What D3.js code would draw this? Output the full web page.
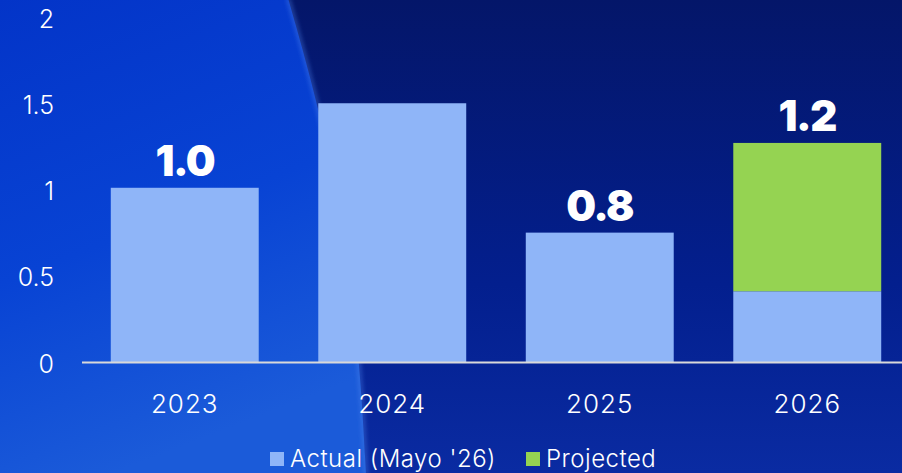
<!DOCTYPE html>
<html>
<head>
<meta charset="utf-8">
<script src="https://cdn.jsdelivr.net/npm/d3@7"></script>
<style>
  html, body { margin: 0; padding: 0; background: #041c86; }
  svg { display: block; }
  text { font-family: Inter, "Open Sans", sans-serif; fill: #ffffff; }
</style>
</head>
<body>
<div id="chart"></div>
<script>
// data
var years = ["2023", "2024", "2025", "2026"];
var actual = [1.01, 1.5, 0.75, 0.41];
var projected = [0, 0, 0, 0.86];
var topLabels = ["1.0", "", "0.8", "1.2"];
var yTicks = [0, 0.5, 1, 1.5, 2];
var seriesNames = ["Actual (Mayo '26)", "Projected"];
var seriesColors = ["#8fb5f8", "#95d352"];

var width = 902, height = 473;

var svg = d3.select('#chart')
    .append('svg')
    .attr('width', width)
    .attr('height', height);

// background
var defs = svg.append('defs');
var gRight = defs.append('linearGradient').attr('id', 'bgRight')
    .attr('x1', 0).attr('y1', 0).attr('x2', 0).attr('y2', 1);
gRight.append('stop').attr('offset', '0%').attr('stop-color', '#041669');
gRight.append('stop').attr('offset', '60%').attr('stop-color', '#031f8e');
gRight.append('stop').attr('offset', '100%').attr('stop-color', '#0a2ba2');

var gLeft = defs.append('linearGradient').attr('id', 'bgLeft')
    .attr('x1', 0).attr('y1', 0).attr('x2', 0.3).attr('y2', 1);
gLeft.append('stop').attr('offset', '0%').attr('stop-color', '#0334c8');
gLeft.append('stop').attr('offset', '55%').attr('stop-color', '#0843d4');
gLeft.append('stop').attr('offset', '100%').attr('stop-color', '#1b5bd9');

defs.append('filter').attr('id', 'soft')
    .append('feGaussianBlur').attr('stdDeviation', 2);

svg.append('rect')
    .attr('width', width).attr('height', height)
    .attr('fill', 'url(#bgRight)');

var edge = [[288, -2], [320, 110], [345, 235], [360, 362], [366, 475]];
var edgeLine = d3.line().curve(d3.curveBasis);

svg.append('path')
    .attr('d', edgeLine(edge) + 'L0,475L0,-2Z')
    .attr('fill', 'url(#bgLeft)');

svg.append('path')
    .attr('d', edgeLine(edge))
    .attr('fill', 'none')
    .attr('stroke', '#4d86ee')
    .attr('stroke-opacity', 0.45)
    .attr('stroke-width', 4)
    .attr('filter', 'url(#soft)');

// scales
var x = d3.scaleBand()
    .domain(years)
    .range([81, 911])
    .paddingInner(0.287)
    .paddingOuter(0.1435);

var y = d3.scaleLinear()
    .domain([0, 2])
    .range([362, 17]);

// y labels
svg.append('g').selectAll('text')
    .data(yTicks)
    .enter()
    .append('text')
    .attr('x', 54)
    .attr('y', d => y(d))
    .attr('dy', '0.42em')
    .attr('text-anchor', 'end')
    .attr('font-size', 25)
    .attr('font-weight', 300)
    .text(d => d);

// bars
var stacked = d3.stack().keys([0, 1])
    .value((d, k) => k === 0 ? actual[d] : projected[d])(d3.range(years.length));

svg.append('g').selectAll('g')
    .data(stacked)
    .enter()
    .append('g')
    .attr('fill', (d, i) => seriesColors[i])
    .selectAll('rect')
    .data(d => d)
    .enter()
    .append('rect')
    .attr('x', d => x(years[d.data]))
    .attr('width', x.bandwidth())
    .attr('y', d => y(d[1]))
    .attr('height', d => y(d[0]) - y(d[1]));

// axis line
svg.append('line')
    .attr('x1', 82).attr('x2', width)
    .attr('y1', y(0) + 0.5).attr('y2', y(0) + 0.5)
    .attr('stroke', '#d9d9d9')
    .attr('stroke-width', 2);

// x labels
svg.append('g').selectAll('text')
    .data(years)
    .enter()
    .append('text')
    .attr('x', d => x(d) + x.bandwidth() / 2)
    .attr('y', 413)
    .attr('text-anchor', 'middle')
    .attr('font-size', 26)
    .attr('font-weight', 300)
    .attr('letter-spacing', 1)
    .text(d => d);

// value labels on top
svg.append('g').selectAll('text')
    .data(years)
    .enter()
    .append('text')
    .attr('x', d => x(d) + x.bandwidth() / 2)
    .attr('y', (d, i) => y(actual[i] + projected[i]) - 12)
    .attr('text-anchor', 'middle')
    .attr('font-size', 42)
    .attr('font-weight', 900)
    .attr('letter-spacing', -1.5)
    .text((d, i) => topLabels[i]);

// legend
var legendX = [270, 526];
var legend = svg.append('g').selectAll('g')
    .data(seriesNames)
    .enter()
    .append('g')
    .attr('transform', (d, i) => 'translate(' + legendX[i] + ',452)');

legend.append('rect')
    .attr('width', 14).attr('height', 14)
    .attr('fill', (d, i) => seriesColors[i]);

legend.append('text')
    .attr('x', 20)
    .attr('y', 15)
    .attr('font-size', 24)
    .attr('font-weight', 300)
    .attr('letter-spacing', 0.5)
    .text(d => d);
</script>
</body>
</html>
